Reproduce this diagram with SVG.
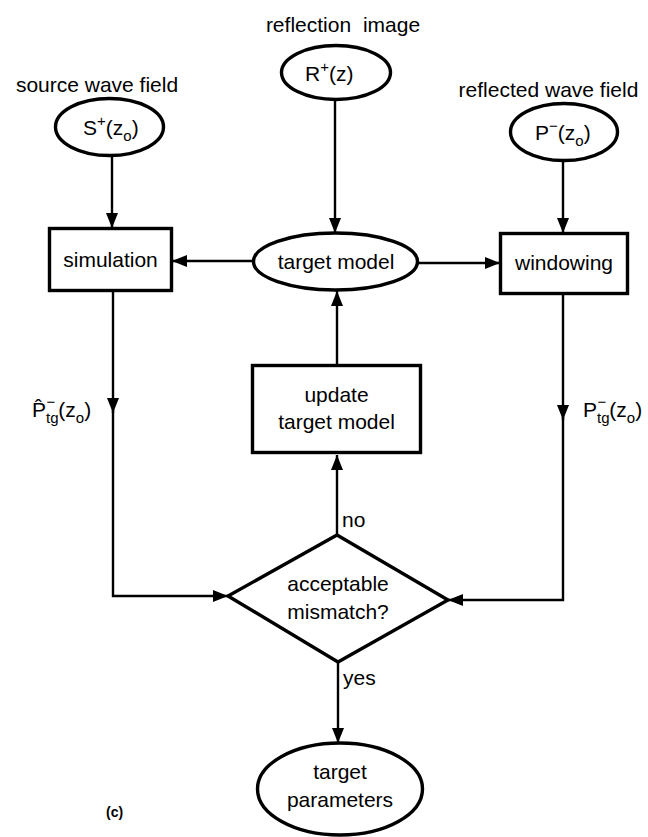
<svg xmlns="http://www.w3.org/2000/svg" width="648" height="837" viewBox="0 0 648 837">
<style>
text{font-family:"Liberation Sans",Arial,sans-serif;font-size:21px;fill:#000}
.c{text-anchor:middle}
.sm{font-size:15px}
.shape{fill:#fff;stroke:#000;stroke-width:3.4}
.edge{fill:none;stroke:#000;stroke-width:2.4}
</style>
<defs>
<marker id="ah" markerUnits="userSpaceOnUse" markerWidth="15" markerHeight="12" refX="15" refY="6" orient="auto">
<path d="M0,0 L15,6 L0,12 z" fill="#000"/>
</marker>
</defs>

<g id="connectors">
<path class="edge" d="M112,156 L112,228" marker-end="url(#ah)"/>
<path class="edge" d="M335,100 L335,233" marker-end="url(#ah)"/>
<path class="edge" d="M563,161 L563,233" marker-end="url(#ah)"/>
<path class="edge" d="M253,261 L172,261" marker-end="url(#ah)"/>
<path class="edge" d="M418,263 L500,263" marker-end="url(#ah)"/>
<path class="edge" d="M337,365 L337,291" marker-end="url(#ah)"/>
<path class="edge" d="M113,291 L113,413" marker-end="url(#ah)"/>
<path class="edge" d="M113,410 L113,596 L228,596" marker-end="url(#ah)"/>
<path class="edge" d="M563,294 L563,420" marker-end="url(#ah)"/>
<path class="edge" d="M563,417 L563,600 L448,600" marker-end="url(#ah)"/>
<path class="edge" d="M337,535 L337,455" marker-end="url(#ah)"/>
<path class="edge" d="M338,662 L338,743" marker-end="url(#ah)"/>
<text x="342" y="527">no</text>
<text x="343" y="685">yes</text>
<text x="32" y="417">P̂<tspan class="sm" dy="6">tg</tspan><tspan class="sm" dx="-12" dy="-16">−</tspan><tspan dx="3" dy="10">(z</tspan><tspan class="sm" dy="6">o</tspan><tspan dy="-6">)</tspan></text>
<text x="583" y="417">P<tspan class="sm" dy="6">tg</tspan><tspan class="sm" dx="-12" dy="-16">−</tspan><tspan dx="3" dy="10">(z</tspan><tspan class="sm" dy="6">o</tspan><tspan dy="-6">)</tspan></text>
</g>

<g id="source-wave-field">
<text class="c" x="97" y="92">source wave field</text>
<ellipse class="shape" cx="109.5" cy="127" rx="54" ry="28.5"/>
<text x="83" y="135">S<tspan class="sm" dy="-9">+</tspan><tspan dy="9">(z</tspan><tspan class="sm" dy="6">o</tspan><tspan dy="-6">)</tspan></text>
</g>

<g id="reflection-image">
<text class="c" x="343" y="32" word-spacing="6">reflection image</text>
<ellipse class="shape" cx="336" cy="72.5" rx="54.5" ry="27"/>
<text x="305" y="81">R<tspan class="sm" dy="-9">+</tspan><tspan dy="9">(z)</tspan></text>
</g>

<g id="reflected-wave-field">
<text class="c" x="548.5" y="97">reflected wave field</text>
<ellipse class="shape" cx="564" cy="132" rx="53.5" ry="28.5"/>
<text x="535" y="140">P<tspan class="sm" dy="-9">−</tspan><tspan dy="9">(z</tspan><tspan class="sm" dy="6">o</tspan><tspan dy="-6">)</tspan></text>
</g>

<g id="simulation">
<rect class="shape" x="49.5" y="228.5" width="122" height="62"/>
<text class="c" x="110.5" y="267">simulation</text>
</g>

<g id="target-model">
<ellipse class="shape" cx="335.5" cy="261.5" rx="82" ry="28.5"/>
<text class="c" x="336" y="269">target model</text>
</g>

<g id="windowing">
<rect class="shape" x="500.5" y="233.5" width="127" height="60" stroke-width="3.8"/>
<text class="c" x="564" y="270">windowing</text>
</g>

<g id="update-target-model">
<rect class="shape" x="252.5" y="365.5" width="168" height="87"/>
<text class="c" x="336.5" y="402">update</text>
<text class="c" x="336.5" y="429">target model</text>
</g>

<g id="acceptable-mismatch">
<polygon class="shape" points="337,535 448,600 338,662 228,596"/>
<text class="c" x="338" y="591">acceptable</text>
<text class="c" x="338" y="619">mismatch?</text>
</g>

<g id="target-parameters">
<ellipse class="shape" cx="340" cy="789" rx="82.5" ry="46"/>
<text class="c" x="340" y="779">target</text>
<text class="c" x="340" y="807">parameters</text>
</g>

<text x="106" y="817" style="font-size:14px;font-weight:bold">(c)</text>
</svg>
